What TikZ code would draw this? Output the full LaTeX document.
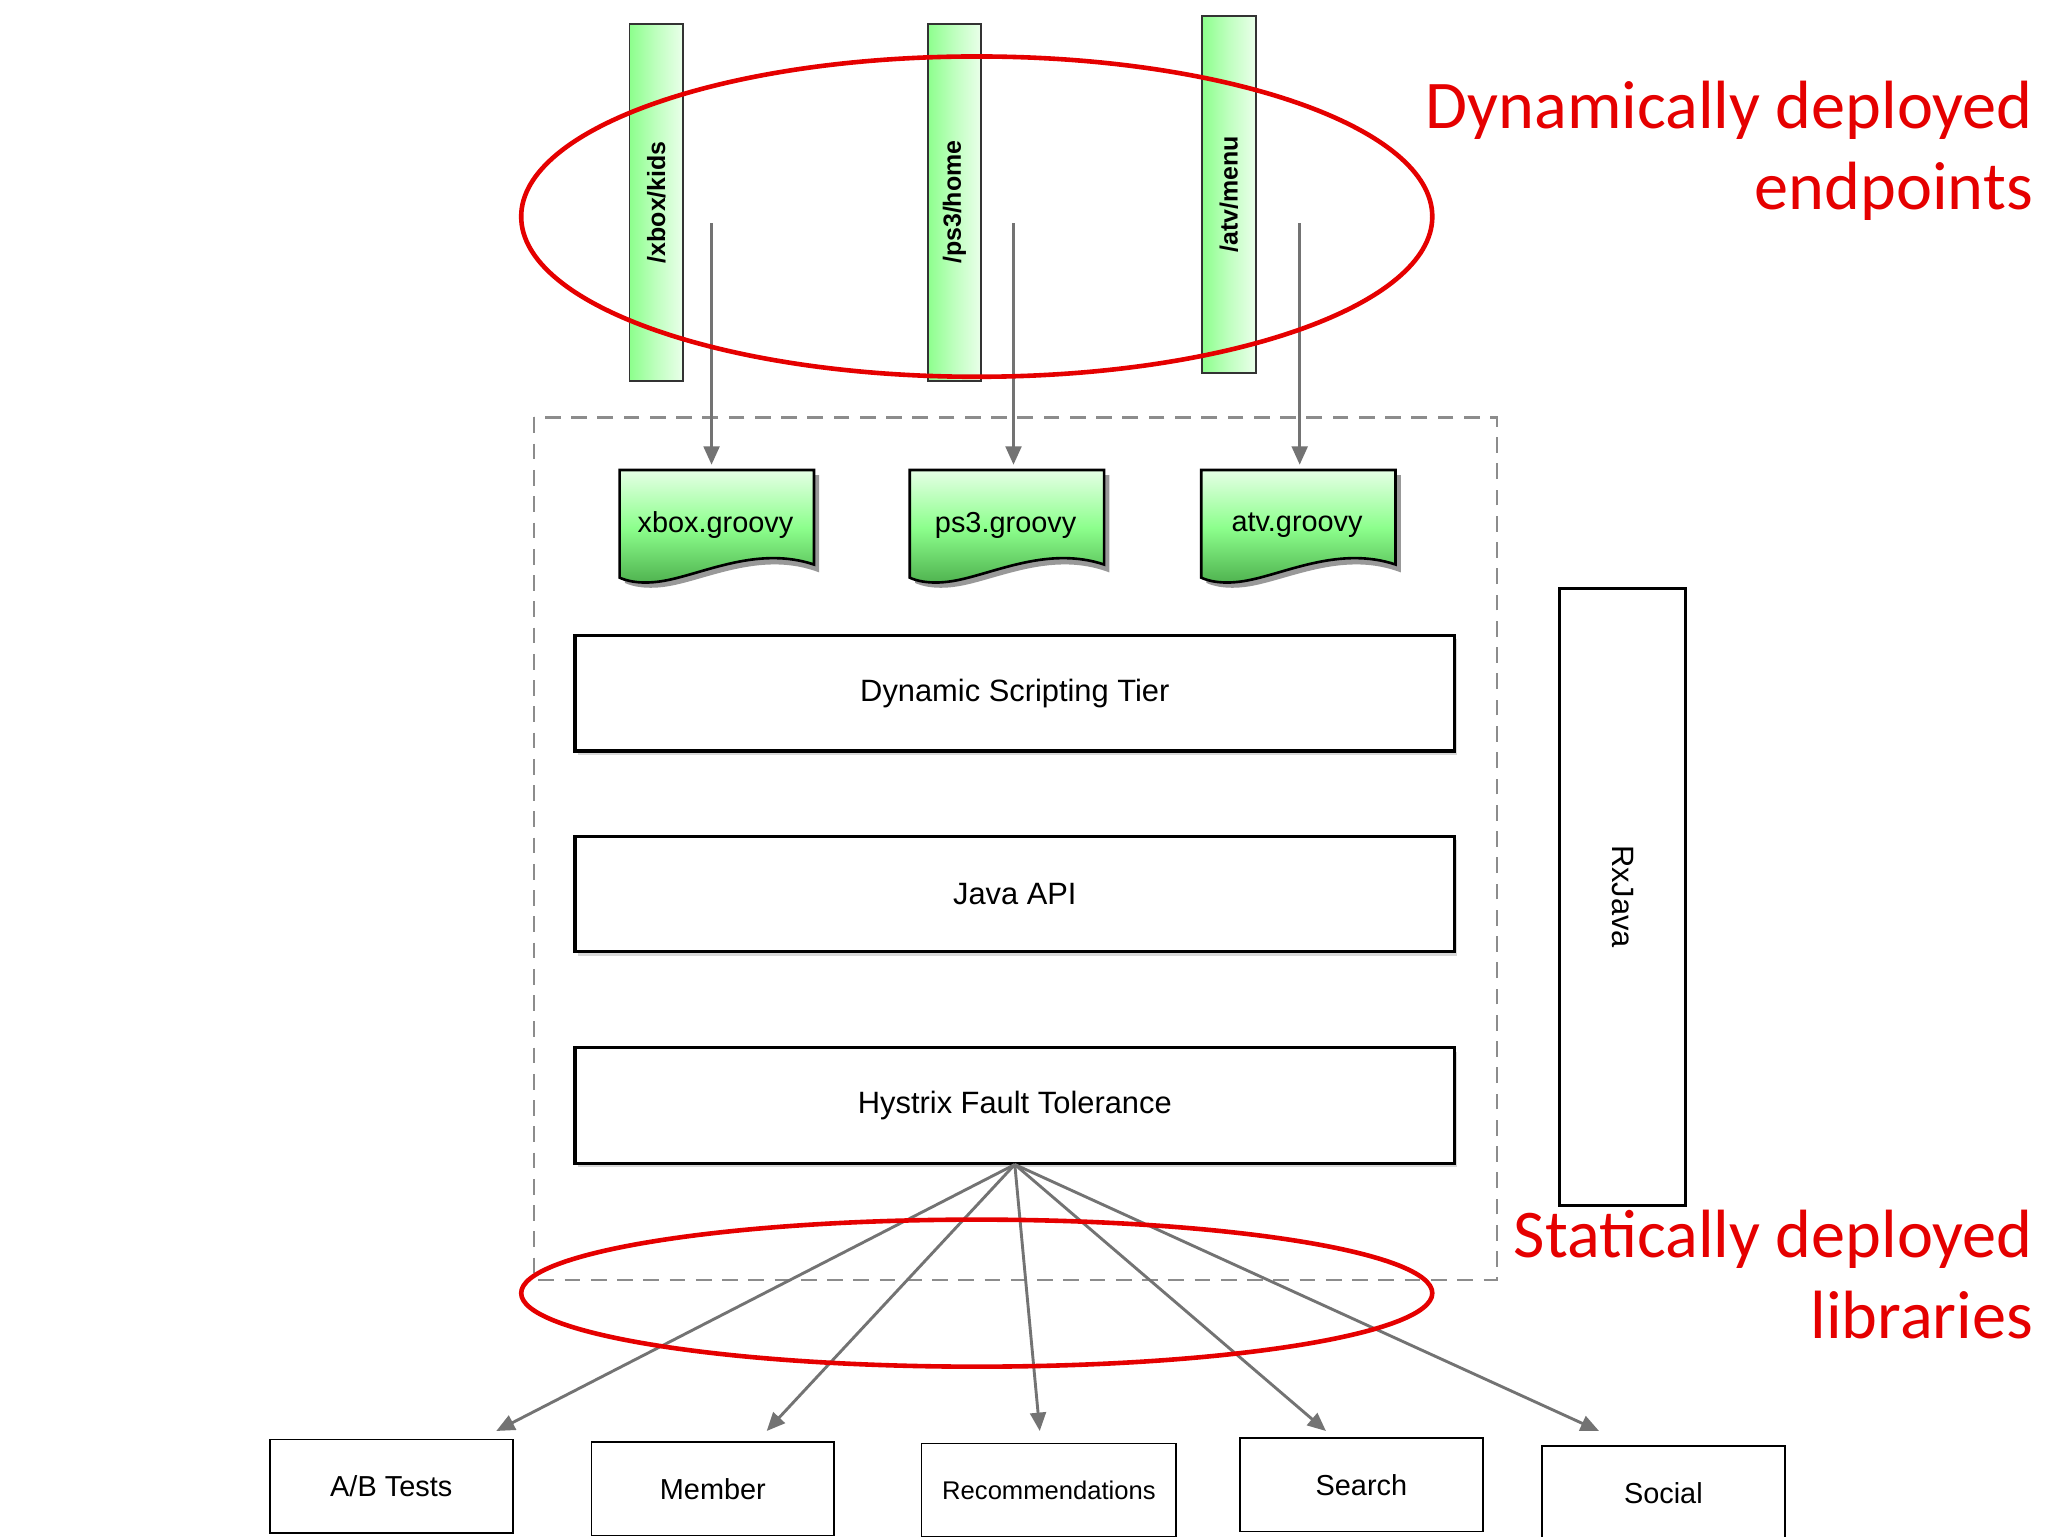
\documentclass[tikz,border=0pt]{standalone}
\usepackage{fontspec}
\setmainfont{Liberation Sans}
\newfontfamily\calib{Carlito}
\usetikzlibrary{arrows.meta,shadows}
\begin{document}
\begin{tikzpicture}[x=1pt,y=-1pt,
  lbl/.style={font=\fontsize{22}{24}\selectfont},
  tlbl/.style={font=\fontsize{23.5}{26}\selectfont},
  endpt/.style={draw=black!80,line width=1.5pt,left color=green!45!white,right color=green!8!white,middle color=green!25!white,minimum width=41,minimum height=272,inner sep=0},
  tier/.style={draw=black,line width=2.5pt,fill=white,minimum width=670,minimum height=88,tlbl,drop shadow={shadow xshift=2pt,shadow yshift=-3pt,opacity=0.3}},
  lib/.style={draw=black,line width=1.3pt,fill=white,minimum width=185,minimum height=71,lbl},
  garr/.style={draw=black!55,line width=2.2pt,-{Triangle[length=14pt,width=12pt]}},
  redl/.style={draw=red!90!black,line width=3.5pt},
  redt/.style={text=red!90!black,font=\calib\fontsize{52}{62}\selectfont,align=right,anchor=east}]
\useasboundingbox (0,0) rectangle (1560,1170);
\fill[white] (0,0) rectangle (1560,1170);
% endpoints
\node[endpt] (e1) at (500,154) {};
\node[endpt] (e2) at (727,154) {};
\node[endpt] (e3) at (936,148) {};
\node[rotate=90,font=\bfseries\fontsize{19}{22}\selectfont] at (e1) {/xbox/kids};
\node[rotate=90,font=\bfseries\fontsize{19}{22}\selectfont] at (e2) {/ps3/home};
\node[rotate=90,font=\bfseries\fontsize{19}{22}\selectfont] at (e3) {/atv/menu};
% dashed container
\draw[black!45,line width=1.6pt,dash pattern=on 12pt off 8pt] (407,318) rectangle (1140,975);
% groovy docs
\foreach \x/\t/\n in {472/xbox.groovy/g1,693/ps3.groovy/g2,915/atv.groovy/g3}{
  \fill[black!40] (\x+4,362) -- (\x+152,362) -- (\x+152,436) .. controls (\x+110,420) and (\x+70,440) .. (\x+40,446) .. controls (\x+20,450) and (\x+8,446) .. (\x+4,444) -- cycle;
  \shade[draw=black,line width=2pt,top color=green!10!white,bottom color=green!55!black!70!white,middle color=green!45!white]
   (\x,358) -- (\x+148,358) -- (\x+148,430) .. controls (\x+106,416) and (\x+66,436) .. (\x+36,442) .. controls (\x+16,446) and (\x+4,442) .. (\x,440) -- cycle;
  \node[lbl] (\n) at (\x+73,400) {\t};
}
\coordinate (a1) at (542,170); \coordinate (b1) at (542,354);
\coordinate (a2) at (772,170); \coordinate (b2) at (772,354);
\coordinate (a3) at (990,170); \coordinate (b3) at (990,354);
\draw[garr] (a1) -- (b1); \draw[garr] (a2) -- (b2); \draw[garr] (a3) -- (b3);
% tiers
\node[tier] (dst) at (773,528) {Dynamic Scripting Tier};
\node[tier] (java) at (773,681) {Java API};
\node[tier] (hys) at (773,842) {Hystrix Fault Tolerance};
\node[draw=black,line width=2.5pt,minimum width=96,minimum height=470,fill=white] (rx) at (1236,683) {};
\node[tlbl,rotate=-90] at (rx) {RxJava};
% libraries
\node[lib] (ab) at (298,1132) {A/B Tests};
\node[lib] (mem) at (543,1134) {Member};
\node[lib,minimum width=194,font=\fontsize{19.5}{22}\selectfont] (rec) at (799,1135) {Recommendations};
\node[lib] (sea) at (1037,1131) {Search};
\node[lib] (soc) at (1267,1137) {Social};
\coordinate (h) at (773,887);
\draw[garr] (h) -- (378,1090);
\draw[garr] (h) -- (584,1090);
\draw[garr] (h) -- (792,1090);
\draw[garr] (h) -- (1010,1090);
\draw[garr] (h) -- (1218,1090);
% red
\draw[redl] (744,165) ellipse [x radius=347, y radius=122];
\draw[redl] (744,985) ellipse [x radius=347, y radius=56];
\node[redt] (t1) at (1552,115) {Dynamically deployed\\endpoints};
\node[redt] (t2) at (1552,971) {Statically deployed\\libraries};
\end{tikzpicture}
\end{document}
